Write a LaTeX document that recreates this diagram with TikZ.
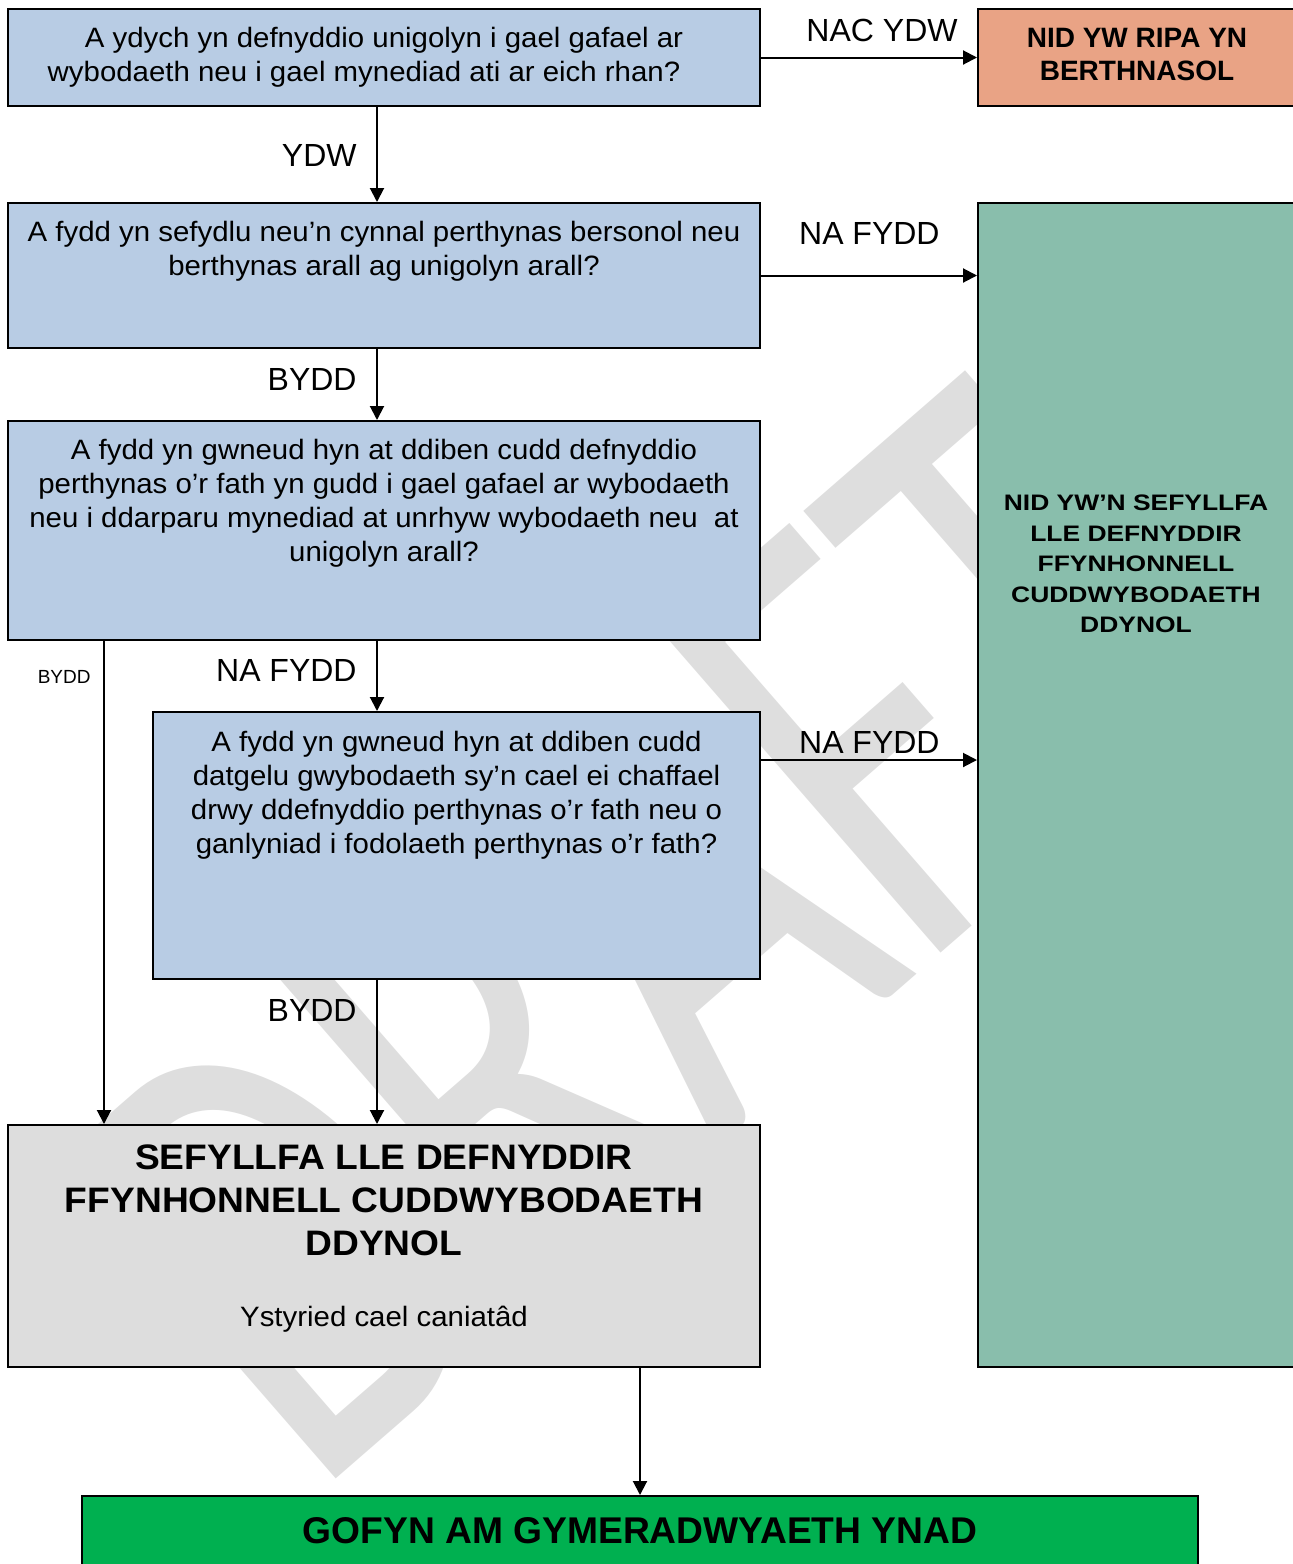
\documentclass[tikz,border=0pt]{standalone}
\usepackage{fontspec}
\setmainfont{Liberation Sans}
\newfontfamily\qfont[FakeStretch=1.05]{Liberation Sans}
\newfontfamily\tfont[FakeStretch=1.18]{Liberation Sans}
\newfontfamily\wmfont[FakeStretch=0.70]{Carlito}
\usetikzlibrary{arrows.meta}
\definecolor{qblue}{HTML}{B8CCE4}
\definecolor{salmon}{HTML}{E9A385}
\definecolor{tealbox}{HTML}{89BEAC}
\definecolor{greybox}{HTML}{DDDDDD}
\definecolor{greenbox}{HTML}{00B050}
\definecolor{wmgrey}{HTML}{DEDEDE}
\begin{document}
\begin{tikzpicture}[x=0.5pt,y=-0.5pt,
  box/.style={draw=black, line width=1pt, inner sep=0pt},
  qtext/.style={inner sep=0pt, align=center, anchor=north, font=\qfont\fontsize{14}{17}\selectfont},
  lab/.style={inner sep=0pt, anchor=base east, font=\fontsize{16}{19}\selectfont},
  arr/.style={line width=1pt, -{Triangle[length=7pt,width=7pt]}}]
\useasboundingbox (0,0) rectangle (1293,1564);
\clip (0,0) rectangle (1293,1564);
% watermark
\node[rotate=41, anchor=base west, inner sep=0pt, text=wmgrey,
  font=\wmfont\fontsize{330}{330}\selectfont] (wm) at (312,1500) {DRAFT};
% boxes
\node[box, fill=qblue, minimum width=376pt, minimum height=48.5pt] (q1) at (384,57.5) {};
\node[box, fill=salmon, minimum width=159pt, minimum height=48.5pt] (rip) at (1137,57.5) {};
\node[box, fill=qblue, minimum width=376pt, minimum height=72.5pt] (q2) at (384,275.5) {};
\node[box, fill=tealbox, minimum width=159pt, minimum height=582pt] (teal) at (1137,785) {};
\node[box, fill=qblue, minimum width=376pt, minimum height=109.5pt] (q3) at (384,530.5) {};
\node[box, fill=qblue, minimum width=303.5pt, minimum height=133.5pt] (q4) at (456.5,845.5) {};
\node[box, fill=greybox, minimum width=376pt, minimum height=121pt] (g) at (384,1246) {};
\node[box, fill=greenbox, minimum width=558pt, minimum height=37pt] (gofyn) at (640,1533) {};
% texts
\node[qtext] (q1t) at (384,23.2) {\strut A ydych yn defnyddio unigolyn i gael gafael ar\\wybodaeth neu i gael mynediad ati ar eich rhan?\hspace*{20pt}};
\node[qtext] (q2t) at (384,217.2) {\strut A fydd yn sefydlu neu’n cynnal perthynas bersonol neu\\berthynas arall ag unigolyn arall?};
\node[qtext] (q3t) at (384,435.2) {\strut A fydd yn gwneud hyn at ddiben cudd defnyddio\\perthynas o’r fath yn gudd i gael gafael ar wybodaeth\\neu i ddarparu mynediad at unrhyw wybodaeth neu\ \ at\\unigolyn arall?};
\node[qtext] (q4t) at (456.5,727.2) {\strut A fydd yn gwneud hyn at ddiben cudd\\datgelu gwybodaeth sy’n cael ei chaffael\\drwy ddefnyddio perthynas o’r fath neu o\\ganlyniad i fodolaeth perthynas o’r fath?};
\node[inner sep=0pt, align=center, anchor=north, font=\bfseries\fontsize{14}{16.5}\selectfont] (ript) at (1137,23.9) {\strut NID YW RIPA YN\\BERTHNASOL};
\node[inner sep=0pt, align=center, anchor=north, font=\tfont\bfseries\fontsize{11.2}{15.25}\selectfont] (tealt) at (1136,489.2) {\strut NID YW’N SEFYLLFA\\LLE DEFNYDDIR\\FFYNHONNELL\\CUDDWYBODAETH\\DDYNOL};
\node[inner sep=0pt, align=center, anchor=north, font=\qfont\bfseries\fontsize{17.7}{21.5}\selectfont] (gt) at (384,1139.4) {\strut SEFYLLFA LLE DEFNYDDIR\\FFYNHONNELL CUDDWYBODAETH\\DDYNOL};
\node[inner sep=0pt, anchor=base, font=\qfont\fontsize{14}{17}\selectfont] (gt2) at (384,1326) {Ystyried cael caniatâd};
\node[inner sep=0pt, anchor=base, font=\bfseries\fontsize{18.6}{22}\selectfont] (gofynt) at (640,1543) {GOFYN AM GYMERADWYAETH YNAD};
% connectors
\draw[arr] (q1.east) -- (q1.east -| rip.west);
\draw[arr] ([xshift=-3.5pt]q1.south) -- ([xshift=-3.5pt]q2.north);
\draw[arr] (q2.east) -- (q2.east -| teal.west);
\draw[arr] ([xshift=-3.5pt]q2.south) -- ([xshift=-3.5pt]q3.north);
\draw[arr] ([xshift=-3.5pt]q3.south) -- ([xshift=-3.5pt]q3.south |- q4.north);
\draw[arr] ([xshift=48.5pt]q3.south west) -- ([xshift=48.5pt]q3.south west |- g.north);
\draw[arr] ([yshift=-24.5pt]q4.north east) -- ([yshift=-24.5pt]q4.north east -| teal.west);
\draw[arr] ([xshift=-3.5pt]g.north |- q4.south) -- ([xshift=-3.5pt]g.north);
\draw[arr] (gofyn.north |- g.south) -- (gofyn.north);
% labels
\node[lab] (l1) at (958,41.5) {NAC YDW};
\node[lab] (l2) at (357,166.5) {YDW};
\node[lab] (l3) at (940,244.5) {NA FYDD};
\node[lab] (l4) at (357,390.5) {BYDD};
\node[lab] (l5) at (357,681.5) {NA FYDD};
\node[lab, font=\fontsize{9.5}{11}\selectfont] (l6) at (91,683) {BYDD};
\node[lab] (l7) at (940,753.5) {NA FYDD};
\node[lab] (l8) at (357,1021.5) {BYDD};
\end{tikzpicture}
\end{document}
